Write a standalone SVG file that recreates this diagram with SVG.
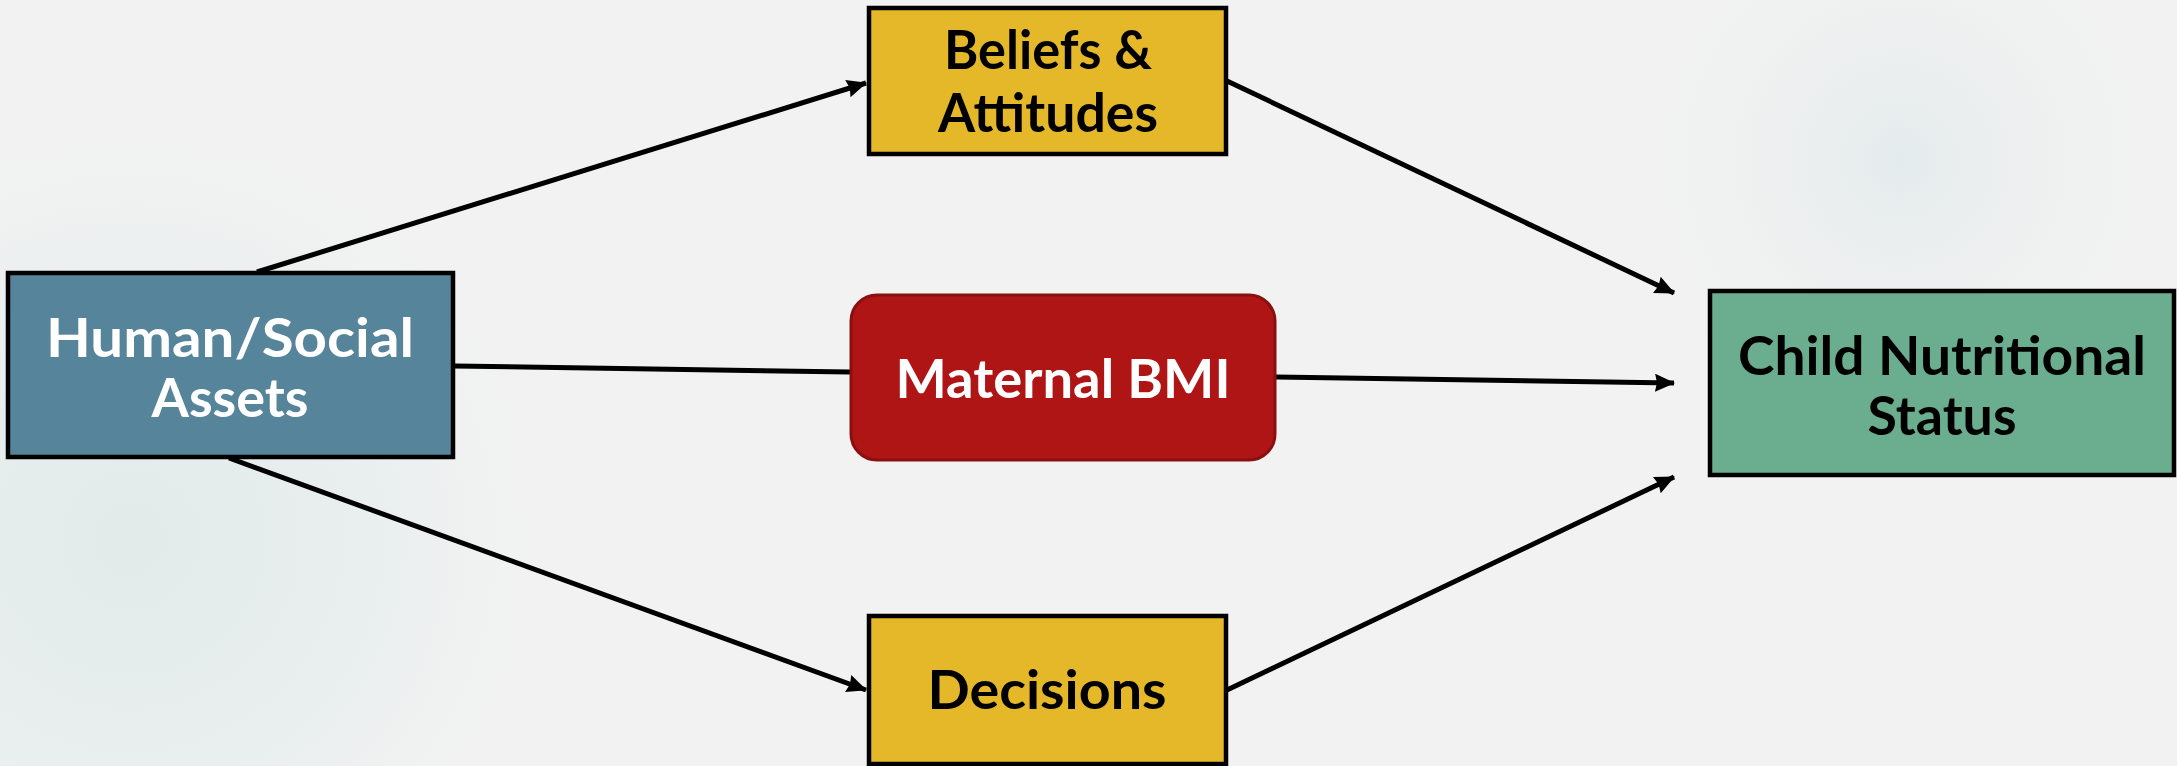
<svg xmlns="http://www.w3.org/2000/svg" width="2177" height="766" viewBox="0 0 2177 766">
<style>
.box{stroke:#000;stroke-width:4.5}
.lbl{font-family:Lato,"Open Sans","Liberation Sans",sans-serif;font-weight:bold;font-size:54px;text-anchor:middle}
.dark{fill:#000}
.light{fill:#fff}
.conn{stroke:#000;stroke-width:5;fill:none}
</style>
<defs>
<radialGradient id="g1" cx="130" cy="540" r="440" gradientUnits="userSpaceOnUse">
<stop offset="0" stop-color="#e2eaea"/>
<stop offset="0.6" stop-color="#eaefef"/>
<stop offset="1" stop-color="#f2f2f2" stop-opacity="0"/>
</radialGradient>
<radialGradient id="g2" cx="1900" cy="160" r="300" gradientUnits="userSpaceOnUse">
<stop offset="0" stop-color="#e4ebec"/>
<stop offset="1" stop-color="#f2f2f2" stop-opacity="0"/>
</radialGradient>
<marker id="arr" viewBox="0 0 20 18" refX="19" refY="9" markerWidth="20" markerHeight="18" markerUnits="userSpaceOnUse" orient="auto">
<path d="M0,0 L20,9 L0,18 L2,9 Z" fill="#000"/>
</marker>
</defs>
<rect x="0" y="0" width="2177" height="766" fill="#f2f2f2"/>
<rect x="0" y="0" width="2177" height="766" fill="url(#g1)"/>
<rect x="0" y="0" width="2177" height="766" fill="url(#g2)"/>
<g id="connectors">
<line class="conn" x1="257" y1="272" x2="866" y2="83" marker-end="url(#arr)"/>
<line class="conn" x1="454" y1="366" x2="850" y2="372"/>
<line class="conn" x1="1276" y1="377" x2="1674" y2="383" marker-end="url(#arr)"/>
<line class="conn" x1="229" y1="458" x2="866" y2="690" marker-end="url(#arr)"/>
<line class="conn" x1="1227" y1="81" x2="1674" y2="293" marker-end="url(#arr)"/>
<line class="conn" x1="1227" y1="690" x2="1674" y2="477" marker-end="url(#arr)"/>
</g>
<g id="human-social-assets">
<rect class="box" x="8" y="273" width="445" height="184" fill="#56849a"/>
<text class="lbl light" x="230" y="357" textLength="368" lengthAdjust="spacingAndGlyphs">Human/Social</text>
<text class="lbl light" x="230" y="417" textLength="157" lengthAdjust="spacingAndGlyphs">Assets</text>
</g>
<g id="beliefs-attitudes">
<rect class="box" x="869" y="8" width="357" height="146" fill="#e5b829"/>
<text class="lbl dark" x="1048" y="69" textLength="208" lengthAdjust="spacingAndGlyphs">Beliefs &amp;</text>
<text class="lbl dark" x="1048" y="132" textLength="220" lengthAdjust="spacingAndGlyphs">Attitudes</text>
</g>
<g id="maternal-bmi">
<rect x="851" y="295" width="424" height="165" rx="26" ry="26" fill="#af1515" stroke="#8a1010" stroke-width="3"/>
<text class="lbl light" x="1063" y="398" textLength="335" lengthAdjust="spacingAndGlyphs">Maternal BMI</text>
</g>
<g id="decisions">
<rect class="box" x="869" y="616" width="357" height="148" fill="#e5b829"/>
<text class="lbl dark" x="1047" y="709" textLength="239" lengthAdjust="spacingAndGlyphs">Decisions</text>
</g>
<g id="child-nutritional-status">
<rect class="box" x="1710" y="291" width="464" height="184" fill="#6aad8f"/>
<text class="lbl dark" x="1942" y="375" textLength="408" lengthAdjust="spacingAndGlyphs">Child Nutritional</text>
<text class="lbl dark" x="1942" y="435" textLength="149" lengthAdjust="spacingAndGlyphs">Status</text>
</g>
</svg>
